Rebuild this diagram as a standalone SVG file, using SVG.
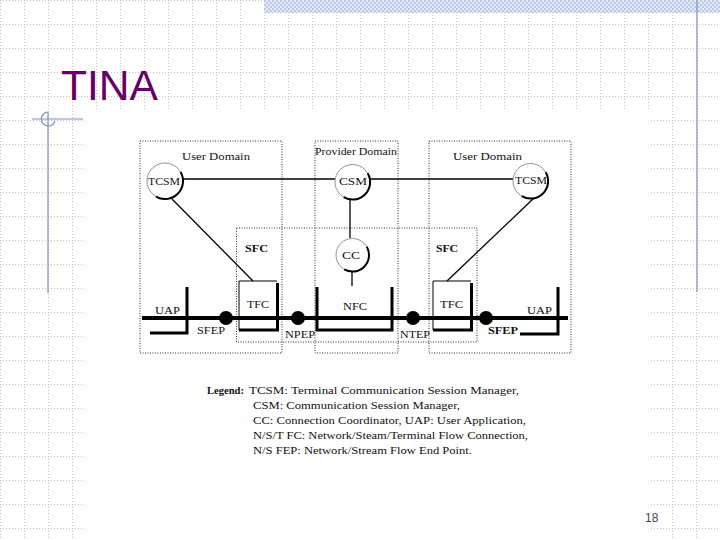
<svg xmlns="http://www.w3.org/2000/svg" width="720" height="540" viewBox="0 0 720 540">
<style>
.dom{fill:none;stroke:#333;stroke-width:1;stroke-dasharray:1 1.5}
.lbl{font-family:"Liberation Serif","Times New Roman",serif;font-size:11px;fill:#111}
.bold{font-weight:bold}
.node{fill:#fff;stroke:#777;stroke-width:0.8}
.shadow{fill:none;stroke:#000;stroke-width:2}
.thin{fill:none;stroke:#000;stroke-width:1}
.thick{fill:none;stroke:#000;stroke-width:3}
.conn{fill:none;stroke:#000;stroke-width:1.3}
.leg{font-family:"Liberation Serif","Times New Roman",serif;font-size:11px;fill:#111}
.deco{fill:none;stroke:#7f8fbf;stroke-width:1.2}
</style>
<defs>
<pattern id="grid" width="24" height="24" patternUnits="userSpaceOnUse">
<path d="M0 0.5H24M0.5 0V24" stroke="#c2c2c2" stroke-width="1" stroke-dasharray="1 2" fill="none"/>
</pattern>
<pattern id="hatch" width="4" height="4" patternUnits="userSpaceOnUse">
<rect width="4" height="4" fill="#e6ecf7"/>
<rect width="2" height="2" fill="#b9c8e6"/>
<rect x="2" y="2" width="2" height="2" fill="#b9c8e6"/>
</pattern>
</defs>
<rect width="720" height="540" fill="#fff"/>
<rect width="720" height="540" fill="url(#grid)"/>
<rect x="264" y="0" width="456" height="13" fill="url(#hatch)"/>
<rect x="84" y="110" width="567" height="430" fill="#fff"/>
<g id="decoration">
<line class="deco" x1="697" y1="0" x2="697" y2="292"/>
<line class="deco" x1="48" y1="112" x2="48" y2="293"/>
<line class="deco" x1="32" y1="119" x2="83" y2="119"/>
<path class="deco" d="M48,112 A7,7 0 1,0 55,121"/>
</g>
<text id="title" x="61" y="100" font-family="Liberation Sans, Arial, sans-serif" font-size="43" fill="#660066" textLength="97" lengthAdjust="spacingAndGlyphs">TINA</text>
<text id="page" x="645" y="522" font-family="Liberation Sans, Arial, sans-serif" font-size="12" fill="#444455">18</text>

<g id="domains">
<rect class="dom" x="140" y="141" width="142" height="212"/>
<rect class="dom" x="315" y="141" width="83" height="212"/>
<rect class="dom" x="429" y="141" width="142" height="212"/>
<rect class="dom" x="236.5" y="228" width="240.5" height="114"/>
<text class="lbl" x="182" y="160" textLength="68" lengthAdjust="spacingAndGlyphs">User Domain</text>
<text class="lbl" x="315" y="155" textLength="82" lengthAdjust="spacingAndGlyphs">Provider Domain</text>
<text class="lbl" x="453" y="160" textLength="69" lengthAdjust="spacingAndGlyphs">User Domain</text>
<text class="lbl bold" x="245" y="252" textLength="23" lengthAdjust="spacingAndGlyphs">SFC</text>
<text class="lbl bold" x="436" y="252" textLength="22" lengthAdjust="spacingAndGlyphs">SFC</text>
</g>

<g id="connectors">
<line class="conn" x1="183" y1="179" x2="335" y2="179" stroke-width="2"/>
<line class="conn" x1="370" y1="179" x2="513" y2="179" stroke-width="2"/>
<line class="conn" x1="350" y1="200" x2="350" y2="238"/>
<line class="conn" x1="352" y1="272" x2="352" y2="286"/>
<line class="conn" x1="172" y1="199" x2="253" y2="281"/>
<line class="conn" x1="534" y1="198" x2="447" y2="281"/>
</g>

<g id="tcsm-left">
<circle class="node" cx="165" cy="181" r="18"/>
<path class="shadow" d="M180.6,172 A18,18 0 0,1 156,196.6"/>
<text class="lbl" x="164" y="185" text-anchor="middle" textLength="32" lengthAdjust="spacingAndGlyphs">TCSM</text>
</g>
<g id="csm">
<circle class="node" cx="352.5" cy="182" r="17.5"/>
<path class="shadow" d="M367.7,173.25 A17.5,17.5 0 0,1 343.75,197.2"/>
<text class="lbl" x="353" y="185" text-anchor="middle" textLength="28" lengthAdjust="spacingAndGlyphs">CSM</text>
</g>
<g id="tcsm-right">
<circle class="node" cx="530.5" cy="181" r="17.5"/>
<path class="shadow" d="M545.7,172.25 A17.5,17.5 0 0,1 521.75,196.2"/>
<text class="lbl" x="531" y="184" text-anchor="middle" textLength="32" lengthAdjust="spacingAndGlyphs">TCSM</text>
</g>
<g id="cc">
<circle class="node" cx="352.5" cy="255" r="16.5"/>
<path class="shadow" d="M366.8,246.75 A16.5,16.5 0 0,1 344.25,269.3"/>
<text class="lbl" x="351" y="259" text-anchor="middle" textLength="18" lengthAdjust="spacingAndGlyphs">CC</text>
</g>

<g id="uap-left">
<path class="thick" d="M150,333 H187 V287"/>
<text class="lbl" x="155" y="314" textLength="25" lengthAdjust="spacingAndGlyphs">UAP</text>
</g>
<g id="tfc-left">
<path class="thin" d="M239,330 V281 H277"/>
<path class="thick" d="M277.5,283 V330 H239"/>
<text class="lbl" x="247" y="308" textLength="22" lengthAdjust="spacingAndGlyphs">TFC</text>
</g>
<g id="nfc">
<path class="thick" d="M317,287 V330 H392 V287"/>
<text class="lbl" x="343" y="310" textLength="24" lengthAdjust="spacingAndGlyphs">NFC</text>
</g>
<g id="tfc-right">
<path class="thin" d="M433,330 V281 H471"/>
<path class="thick" d="M471.5,283 V330 H433"/>
<text class="lbl" x="440" y="308" textLength="23" lengthAdjust="spacingAndGlyphs">TFC</text>
</g>
<g id="uap-right">
<path class="thick" d="M520,334 H558 V287"/>
<text class="lbl" x="527" y="314" textLength="25" lengthAdjust="spacingAndGlyphs">UAP</text>
</g>

<g id="flow-line">
<line x1="142" y1="318" x2="568" y2="318" stroke="#000" stroke-width="4"/>
</g>
<g id="sfep-left">
<circle cx="226" cy="318" r="7" fill="#000"/>
<text class="lbl" x="197" y="334" textLength="28" lengthAdjust="spacingAndGlyphs">SFEP</text>
</g>
<g id="npep">
<circle cx="298" cy="318" r="7" fill="#000"/>
<text class="lbl" x="285" y="338" textLength="30" lengthAdjust="spacingAndGlyphs">NPEP</text>
</g>
<g id="ntep">
<circle cx="413" cy="318" r="7" fill="#000"/>
<text class="lbl" x="400" y="338" textLength="30" lengthAdjust="spacingAndGlyphs">NTEP</text>
</g>
<g id="sfep-right">
<circle cx="486" cy="318" r="7" fill="#000"/>
<text class="lbl bold" x="488" y="334" textLength="30" lengthAdjust="spacingAndGlyphs">SFEP</text>
</g>

<g id="legend">
<text class="leg bold" x="207" y="394" textLength="37" lengthAdjust="spacingAndGlyphs">Legend:</text>
<text class="leg" x="249" y="394" textLength="270" lengthAdjust="spacingAndGlyphs">TCSM: Terminal Communication Session Manager,</text>
<text class="leg" x="253" y="409" textLength="207" lengthAdjust="spacingAndGlyphs">CSM: Communication Session Manager,</text>
<text class="leg" x="253" y="424" textLength="273" lengthAdjust="spacingAndGlyphs">CC: Connection Coordinator, UAP: User Application,</text>
<text class="leg" x="253" y="439" textLength="275" lengthAdjust="spacingAndGlyphs">N/S/T FC: Network/Steam/Terminal Flow Connection,</text>
<text class="leg" x="253" y="454" textLength="219" lengthAdjust="spacingAndGlyphs">N/S FEP: Network/Stream Flow End Point.</text>
</g>
</svg>
